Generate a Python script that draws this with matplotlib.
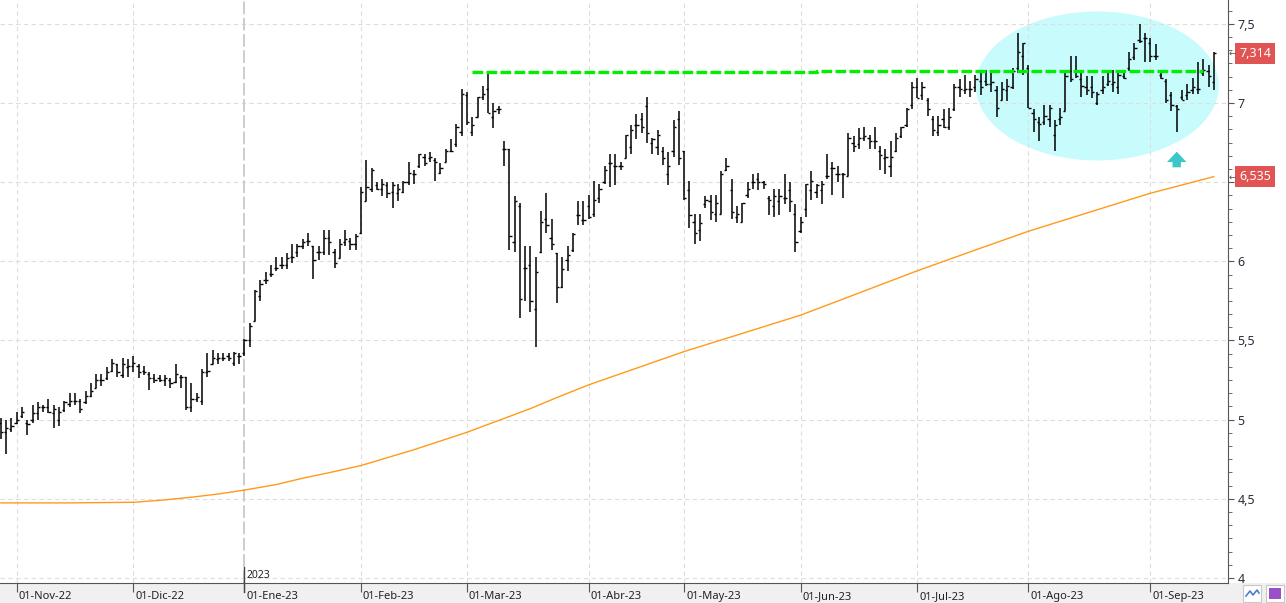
import numpy as np
import pandas as pd
import matplotlib.pyplot as plt
import matplotlib.transforms as mtrans
from matplotlib.patches import Ellipse, Rectangle
from matplotlib.ticker import MultipleLocator, FuncFormatter

plt.rcParams['font.family'] = ['Noto Sans', 'DejaVu Sans']

# ----- trading calendar -----
start_date, end_date = '2022-10-27', '2023-09-19'
holidays = ['2022-12-26', '2023-04-07', '2023-04-10', '2023-05-01']
month_labels = ['01-Nov-22', '01-Dic-22', '01-Ene-23', '01-Feb-23', '01-Mar-23', '01-Abr-23',
                '01-May-23', '01-Jun-23', '01-Jul-23', '01-Ago-23', '01-Sep-23']
year_label = '2023'

# ----- daily OHLC -----
highs = [5.01, 5.00, 5.01,
         5.05, 5.08, 5.00, 5.09, 5.11, 5.09, 5.13, 5.09, 5.08, 5.12, 5.17, 5.17, 5.13, 5.18, 5.23,
         5.29, 5.29, 5.33, 5.38, 5.35, 5.39, 5.38,
         5.40, 5.35, 5.34, 5.30, 5.29, 5.28, 5.28, 5.26, 5.35, 5.28, 5.27, 5.23, 5.17, 5.32, 5.42,
         5.44, 5.42, 5.42, 5.42, 5.43, 5.42,
         5.51, 5.61, 5.82, 5.88, 5.93, 5.98, 6.03, 6.03, 6.05, 6.11, 6.11, 6.14, 6.18, 6.10, 6.10,
         6.20, 6.20, 6.08, 6.14, 6.20, 6.15, 6.17,
         6.47, 6.64, 6.59, 6.50, 6.52, 6.50, 6.50, 6.49, 6.51, 6.63, 6.58, 6.68, 6.68, 6.69, 6.65,
         6.62, 6.71, 6.77, 6.87, 7.09,
         7.07, 6.91, 7.04, 7.11, 7.19, 7.00, 6.98, 6.76, 6.71, 6.41, 6.37, 6.10, 6.10, 6.03, 6.32,
         6.43, 6.27, 6.05, 6.03, 6.10, 6.18, 6.38, 6.38,
         6.42, 6.51, 6.49, 6.60, 6.68, 6.68, 6.63, 6.80, 6.86, 6.93, 6.94, 7.04, 6.78, 6.83, 6.72,
         6.69, 6.89, 6.95,
         6.70, 6.51, 6.30, 6.30, 6.41, 6.42, 6.42, 6.57, 6.65, 6.52, 6.35, 6.37, 6.50, 6.55, 6.56,
         6.51, 6.41, 6.46, 6.46, 6.55, 6.50, 6.36,
         6.28, 6.49, 6.57, 6.49, 6.51, 6.68, 6.63, 6.60, 6.56, 6.81, 6.79, 6.84, 6.85, 6.80, 6.85,
         6.73, 6.71, 6.76, 6.81, 6.85, 6.97, 7.13,
         7.16, 7.13, 7.03, 6.92, 6.92, 6.96, 6.97, 7.12, 7.15, 7.18, 7.14, 7.18, 7.19, 7.21, 7.19,
         7.11, 7.13, 7.15, 7.22, 7.44, 7.38,
         7.24, 6.96, 6.91, 6.99, 6.99, 6.89, 6.97, 7.19, 7.30, 7.30, 7.20, 7.17, 7.17, 7.07, 7.17,
         7.20, 7.21, 7.19, 7.20, 7.32, 7.38, 7.50, 7.44,
         7.41, 7.37, 7.20, 7.15, 7.07, 6.99, 7.08, 7.12, 7.16, 7.26, 7.28, 7.24, 7.32]
lows = [4.88, 4.78, 4.92,
        4.97, 5.01, 4.90, 4.98, 5.00, 5.05, 5.04, 4.95, 4.96, 5.05, 5.08, 5.09, 5.04, 5.10, 5.14,
        5.20, 5.21, 5.25, 5.30, 5.27, 5.26, 5.27,
        5.30, 5.26, 5.28, 5.19, 5.23, 5.24, 5.21, 5.20, 5.23, 5.20, 5.06, 5.05, 5.11, 5.09, 5.27,
        5.35, 5.35, 5.37, 5.37, 5.34, 5.35,
        5.40, 5.46, 5.62, 5.75, 5.86, 5.90, 5.94, 5.95, 5.95, 5.99, 6.03, 6.08, 6.10, 5.89, 6.01,
        6.04, 6.04, 5.96, 6.02, 6.10, 6.07, 6.07,
        6.17, 6.38, 6.44, 6.45, 6.41, 6.40, 6.34, 6.38, 6.43, 6.48, 6.49, 6.59, 6.60, 6.63, 6.51,
        6.55, 6.63, 6.69, 6.72, 6.79,
        6.86, 6.79, 6.91, 7.02, 6.94, 6.84, 6.93, 6.60, 6.07, 6.06, 5.64, 5.75, 5.68, 5.46, 6.05,
        6.18, 6.07, 5.74, 5.83, 5.94, 6.06, 6.23, 6.23,
        6.27, 6.28, 6.37, 6.49, 6.47, 6.48, 6.58, 6.65, 6.68, 6.77, 6.81, 6.75, 6.68, 6.67, 6.61,
        6.48, 6.66, 6.61,
        6.39, 6.21, 6.11, 6.13, 6.34, 6.26, 6.25, 6.30, 6.57, 6.27, 6.24, 6.25, 6.40, 6.46, 6.45,
        6.46, 6.29, 6.28, 6.29, 6.36, 6.31, 6.06,
        6.18, 6.28, 6.39, 6.40, 6.36, 6.52, 6.42, 6.50, 6.40, 6.54, 6.69, 6.71, 6.76, 6.71, 6.71,
        6.58, 6.55, 6.53, 6.69, 6.78, 6.85, 6.96,
        7.03, 7.02, 6.92, 6.79, 6.79, 6.84, 6.83, 6.95, 7.04, 7.06, 7.04, 7.07, 7.05, 7.11, 7.07,
        6.91, 7.02, 7.01, 7.09, 7.19, 7.18,
        6.97, 6.82, 6.76, 6.86, 6.85, 6.70, 6.86, 6.95, 7.13, 7.16, 7.04, 7.05, 7.03, 6.99, 7.06,
        7.11, 7.07, 7.06, 7.15, 7.20, 7.27, 7.38, 7.26,
        7.26, 7.27, 7.15, 7.00, 6.95, 6.82, 7.02, 7.02, 7.06, 7.06, 7.17, 7.10, 7.08]
opens = [4.98, 4.92, 4.94,
         4.98, 5.02, 4.98, 5.00, 5.04, 5.08, 5.08, 5.04, 5.00, 5.06, 5.10, 5.12, 5.12, 5.11, 5.15,
         5.20, 5.25, 5.26, 5.31, 5.35, 5.28, 5.33,
         5.34, 5.34, 5.31, 5.29, 5.26, 5.26, 5.25, 5.25, 5.24, 5.27, 5.27, 5.08, 5.13, 5.12, 5.30,
         5.35, 5.38, 5.39, 5.40, 5.36, 5.40,
         5.42, 5.50, 5.62, 5.78, 5.88, 5.92, 5.96, 5.98, 5.98, 6.03, 6.06, 6.10, 6.13, 6.10, 6.06,
         6.06, 6.15, 6.06, 6.02, 6.12, 6.13, 6.11,
         6.18, 6.38, 6.46, 6.48, 6.46, 6.48, 6.44, 6.43, 6.44, 6.50, 6.55, 6.60, 6.66, 6.65, 6.64,
         6.56, 6.63, 6.70, 6.74, 6.82,
         7.05, 6.82, 6.91, 7.04, 7.09, 6.91, 6.96, 6.71, 6.71, 6.12, 6.35, 5.96, 5.98, 5.70, 6.06,
         6.27, 6.15, 6.05, 5.84, 6.01, 6.07, 6.29, 6.26,
         6.35, 6.30, 6.40, 6.50, 6.62, 6.60, 6.60, 6.65, 6.72, 6.86, 6.90, 6.98, 6.75, 6.72, 6.70,
         6.55, 6.70, 6.90,
         6.70, 6.45, 6.25, 6.20, 6.36, 6.38, 6.30, 6.30, 6.58, 6.45, 6.28, 6.25, 6.42, 6.50, 6.52,
         6.50, 6.40, 6.35, 6.38, 6.40, 6.45, 6.30,
         6.19, 6.33, 6.45, 6.44, 6.45, 6.54, 6.59, 6.55, 6.55, 6.54, 6.75, 6.74, 6.78, 6.78, 6.76,
         6.70, 6.65, 6.60, 6.70, 6.79, 6.86, 6.99,
         7.10, 7.05, 7.02, 6.90, 6.82, 6.90, 6.85, 6.96, 7.10, 7.08, 7.09, 7.10, 7.14, 7.14, 7.12,
         7.08, 7.02, 7.08, 7.10, 7.22, 7.30,
         7.22, 6.94, 6.88, 6.88, 6.90, 6.80, 6.90, 6.95, 7.20, 7.20, 7.15, 7.10, 7.10, 7.00, 7.08,
         7.12, 7.12, 7.10, 7.17, 7.22, 7.29, 7.40, 7.41,
         7.38, 7.30, 7.18, 7.14, 7.05, 6.98, 7.04, 7.05, 7.08, 7.09, 7.19, 7.20, 7.13]
closes = [4.92, 4.95, 4.96,
          5.00, 5.05, 4.97, 5.04, 5.08, 5.08, 5.05, 5.07, 5.05, 5.11, 5.12, 5.12, 5.07, 5.15, 5.18,
          5.25, 5.25, 5.30, 5.36, 5.30, 5.35, 5.34,
          5.36, 5.30, 5.30, 5.26, 5.25, 5.25, 5.26, 5.23, 5.29, 5.27, 5.08, 5.13, 5.14, 5.30, 5.31,
          5.39, 5.39, 5.39, 5.39, 5.42, 5.40,
          5.50, 5.59, 5.81, 5.86, 5.88, 5.92, 5.96, 5.98, 6.02, 6.03, 6.10, 6.12, 6.13, 6.01, 6.06,
          6.15, 6.12, 5.99, 6.11, 6.14, 6.11, 6.16,
          6.44, 6.47, 6.58, 6.46, 6.49, 6.43, 6.48, 6.46, 6.50, 6.56, 6.55, 6.68, 6.62, 6.66, 6.63,
          6.59, 6.70, 6.70, 6.85, 7.06,
          6.88, 6.86, 7.04, 7.06, 6.94, 6.95, 6.96, 6.71, 6.16, 6.38, 5.76, 5.96, 5.75, 5.93, 6.25,
          6.23, 6.11, 5.84, 5.95, 6.04, 6.17, 6.29, 6.26,
          6.28, 6.39, 6.46, 6.58, 6.62, 6.60, 6.60, 6.80, 6.83, 6.86, 6.85, 6.81, 6.77, 6.80, 6.65,
          6.60, 6.85, 6.65,
          6.40, 6.29, 6.18, 6.24, 6.39, 6.31, 6.37, 6.55, 6.60, 6.31, 6.30, 6.37, 6.46, 6.50, 6.50,
          6.49, 6.39, 6.41, 6.41, 6.40, 6.38, 6.12,
          6.25, 6.49, 6.51, 6.48, 6.49, 6.54, 6.59, 6.55, 6.55, 6.78, 6.73, 6.78, 6.79, 6.76, 6.76,
          6.67, 6.66, 6.66, 6.78, 6.85, 6.96, 7.10,
          7.03, 7.10, 6.96, 6.83, 6.86, 6.85, 6.91, 7.10, 7.09, 7.09, 7.09, 7.15, 7.10, 7.12, 7.13,
          6.97, 7.09, 7.11, 7.20, 7.32, 7.38,
          6.97, 6.90, 6.87, 6.92, 6.97, 6.86, 6.91, 7.17, 7.15, 7.17, 7.11, 7.08, 7.07, 7.06, 7.10,
          7.14, 7.13, 7.18, 7.16, 7.28, 7.35, 7.39, 7.41,
          7.30, 7.30, 7.16, 7.02, 6.99, 6.96, 7.02, 7.07, 7.10, 7.09, 7.21, 7.17, 7.314]

# ----- moving average (orange), read at bar positions -----
ma_idx = [0, 13, 25, 30, 36, 41, 46, 52, 57, 62, 68, 73, 78, 83, 88, 94, 100, 105, 111, 120, 129,
          140, 151, 162, 173, 183, 194, 205, 217, 229]
ma_val = [4.474, 4.474, 4.478, 4.49, 4.51, 4.53, 4.555, 4.59, 4.63, 4.665, 4.71, 4.76, 4.81,
          4.865, 4.92, 4.995, 5.07, 5.14, 5.22, 5.325, 5.43, 5.545, 5.66, 5.80, 5.94, 6.06, 6.19,
          6.305, 6.43, 6.535]

# ----- drawn annotations -----
resist_idx = [89, 154, 154, 227]
resist_val = [7.194, 7.194, 7.20, 7.20]
zone_center = (207.0, 7.108)
zone_size = (45.9, 0.941)
arrow_idx = 222
arrow_from, arrow_to = 6.594, 6.693

W, H = 1286, 603


def month_starts(dates):
    m = dates.month
    return [i for i in range(1, len(dates)) if m[i] != m[i - 1]]


def comma(v, pos=None):
    # the 6,5 label sits under the red last-value box
    if abs(v - 6.5) < 1e-6:
        return ''
    return f'{v:g}'.replace('.', ',')


dates = pd.bdate_range(start_date, end_date, freq='C', holidays=holidays)
ticks = month_starts(dates)
year_idx = ticks[month_labels.index('01-Ene-23')]

fig = plt.figure(figsize=(W / 100, H / 100), dpi=100)
fig.add_artist(Rectangle((0, 0), 1, 20 / H, transform=fig.transFigure,
                         fc='#f0f0f0', ec='none', zorder=0))
ax = fig.add_axes([0, 20 / H, 1228 / W, 583 / H])
ax.set_xlim(-0.15, 231.68)
ax.set_ylim(3.968, 7.651)

# grid
ax.set_axisbelow(True)
ax.grid(axis='y', which='major', color='#dddddd', linestyle=(0, (4, 3)), lw=0.8)
for t in ticks:
    if t != year_idx:
        ax.axvline(t, color='#dddddd', linestyle=(0, (4, 3)), lw=0.8, zorder=0.6)
ax.axvline(year_idx, color='#c9c9c9', linestyle=(0, (7, 2)), lw=1.3, zorder=0.6)

# zone + trend
ax.add_patch(Ellipse(zone_center, zone_size[0], zone_size[1], fc='#c8fbfc', ec='none', zorder=0.3))
ax.plot(ma_idx, ma_val, color='#ff9a1a', lw=1.0, zorder=2)

# bars
x = np.arange(len(closes))
ax.vlines(x, lows, highs, color='black', lw=1.1, zorder=3)
ax.hlines(opens, x - 0.42, x, color='black', lw=1.0, zorder=3)
ax.hlines(closes, x, x + 0.42, color='black', lw=1.0, zorder=3)

ax.plot(resist_idx, resist_val, color='#00ee00', lw=2.4, linestyle=(0, (3.2, 1.0)), zorder=4)
ax.annotate('', xy=(arrow_idx, arrow_to), xytext=(arrow_idx, arrow_from),
            arrowprops=dict(arrowstyle='simple,head_width=1.4,head_length=0.75,tail_width=0.6',
                            fc='#3cc8c8', ec='none', shrinkA=0, shrinkB=0, mutation_scale=10),
            zorder=4)

# axes look
for s in ['left', 'top']:
    ax.spines[s].set_visible(False)
ax.spines['bottom'].set_color('#555555')
ax.spines['right'].set_color('#555555')
ax.yaxis.tick_right()
ax.set_yticks(np.arange(4, 7.51, 0.5))
ax.yaxis.set_minor_locator(MultipleLocator(0.5 / 6))
ax.yaxis.set_major_formatter(FuncFormatter(comma))
ax.tick_params(axis='y', which='major', length=4.5, color='#555555', labelsize=9,
               labelcolor='#2a2d3a', pad=2.5)
ax.tick_params(axis='y', which='minor', length=3, color='#555555')

ax.set_xticks(ticks)
ax.set_xticklabels(month_labels, ha='left')
ax.tick_params(axis='x', length=6.5, color='#555555', labelsize=8, labelcolor='#222222', pad=-1)
off = mtrans.ScaledTranslation(2 / 100, 0, fig.dpi_scale_trans)
for lab in ax.get_xticklabels():
    lab.set_transform(lab.get_transform() + off)

# year marker
bt = mtrans.blended_transform_factory(ax.transData, fig.transFigure)
ax.plot([year_idx, year_idx], [(603 - 592) / H, (603 - 567) / H], color='#444444', lw=1,
        transform=bt, clip_on=False)
ax.text(year_idx + 0.35, (603 - 575) / H, year_label, transform=bt, fontsize=7.5,
        color='#222222', va='center', ha='left')

# last value labels
lt = mtrans.blended_transform_factory(fig.transFigure, ax.transData)
for val in [closes[-1], ma_val[-1]]:
    ax.text(1239 / W, val, f'{val:.3f}'.replace('.', ','), transform=lt, fontsize=9,
            color='white', va='center', ha='left',
            bbox=dict(boxstyle='square,pad=0.3', fc='#e05454', ec='none'))
    ax.text(1229 / W, val, '\u2190', transform=lt, fontsize=6.5, color='#555555',
            va='center', ha='left')

# small toolbar buttons bottom right
for x0 in [1243, 1266]:
    fig.add_artist(Rectangle((x0 / W, 1 / H), 18 / W, 17 / H, transform=fig.transFigure,
                             fc='white', ec='#c8c8c8', lw=0.8))
fig.add_artist(plt.Line2D(np.array([1246, 1250, 1253, 1257, 1259]) / W,
                          np.array([7, 12, 8, 13, 10]) / H, transform=fig.transFigure,
                          color='#4a7fd0', lw=1.2))
fig.add_artist(Rectangle((1269 / W, 4 / H), 12 / W, 11 / H, transform=fig.transFigure,
                         fc='#9b4fc8', ec='none'))

fig.savefig('out.png', dpi=100)
